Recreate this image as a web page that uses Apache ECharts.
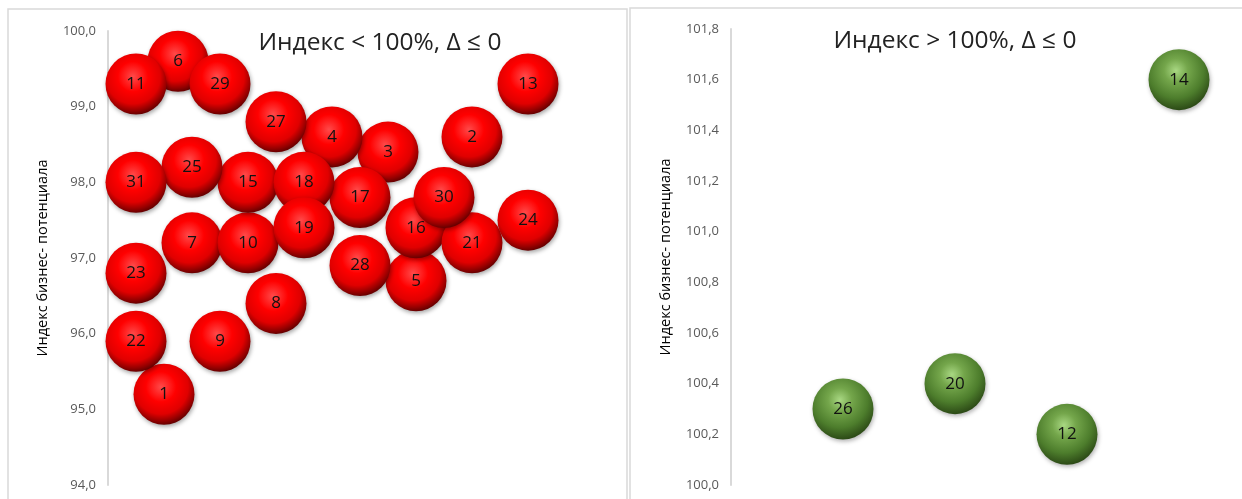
<!DOCTYPE html>
<html>
<head>
<meta charset="utf-8">
<script src="https://cdn.jsdelivr.net/npm/echarts@6/dist/echarts.min.js"></script>
<style>
html,body{margin:0;padding:0;background:#fff;}
#chart{width:1242px;height:499px;}
</style>
</head>
<body>
<div id="chart"></div>
<script>
// ---- Data ----
const leftTitle = 'Индекс < 100%, Δ ≤ 0';
const rightTitle = 'Индекс > 100%, Δ ≤ 0';
const yAxisName = 'Индекс бизнес- потенциала';

const leftLabels = ['1','2','3','4','5','6','7','8','9','10','11','13','15','16','17','18','19','21','22','23','24','25','27','28','29','30','31'];
const leftX      = [2, 13, 10, 8, 11, 2.5, 3, 6, 4, 5, 1, 15, 5, 11, 9, 7, 7, 13, 1, 1, 15, 3, 6, 9, 4, 12, 1];
const leftY      = [95.2, 98.6, 98.4, 98.6, 96.7, 99.6, 97.2, 96.4, 95.9, 97.2, 99.3, 99.3, 98.0, 97.4, 97.8, 98.0, 97.4, 97.2, 95.9, 96.8, 97.5, 98.2, 98.8, 96.9, 99.3, 97.8, 98.0];

const rightLabels = ['12','14','20','26'];
const rightX      = [3, 4, 2, 1];
const rightY      = [100.2, 101.6, 100.4, 100.3];

const leftTicks  = [94, 95, 96, 97, 98, 99, 100];
const rightTicks = [100.0, 100.2, 100.4, 100.6, 100.8, 101.0, 101.2, 101.4, 101.6, 101.8];

// ---- Build ----
const FONT = '"Open Sans", "Noto Sans", sans-serif';
const fmt = v => v.toFixed(1).replace('.', ',');

function pts(xs, ys, ls){ return xs.map((x,i)=>({value:[x, ys[i]], name: ls[i]})); }

const redGrad = {type:'radial', x:0.45, y:0.38, r:0.62, colorStops:[
  {offset:0, color:'#ff4a4a'},{offset:0.4, color:'#ff0000'},{offset:0.72, color:'#e00000'},{offset:0.9, color:'#960000'},{offset:1, color:'#680000'}]};
const greenGrad = {type:'radial', x:0.45, y:0.35, r:0.65, colorStops:[
  {offset:0, color:'#a9d883'},{offset:0.3, color:'#74a64b'},{offset:0.7, color:'#4d7d2c'},{offset:1, color:'#2c4a16'}]};

function yAxis(gi, min, max, interval){
  return {
    type:'value', gridIndex:gi, min:min, max:max, interval:interval,
    name: yAxisName, nameLocation:'middle', nameGap:58, nameRotate:90,
    nameTextStyle:{fontFamily:FONT, fontSize:14.5, color:'#000'},
    axisLine:{show:true, lineStyle:{color:'#d9d9d9', width:2}},
    axisTick:{show:false}, splitLine:{show:false},
    axisLabel:{fontFamily:FONT, fontSize:13, color:'#595959', margin:12, formatter: v=>fmt(v)}
  };
}
function xAxis(gi, min, max){
  return {type:'value', gridIndex:gi, min:min, max:max, show:false, splitLine:{show:false}};
}
const labelCfg = {show:true, position:'inside', formatter:p=>p.name, fontFamily:FONT, fontSize:17, color:'#111'};

const option = {
  backgroundColor:'#fff',
  animation:false,
  graphic:[
    {type:'rect', shape:{x:8, y:9, width:619, height:520}, style:{fill:'none', stroke:'#d9d9d9', lineWidth:1.5}, z:-1},
    {type:'rect', shape:{x:630, y:8, width:640, height:520}, style:{fill:'none', stroke:'#d9d9d9', lineWidth:1.5}, z:-1}
  ],
  title:[
    {text:leftTitle, left:375, top:26, textAlign:'center', textStyle:{fontFamily:FONT, fontSize:24.5, fontWeight:'normal', color:'#222'}},
    {text:rightTitle, left:950, top:24, textAlign:'center', textStyle:{fontFamily:FONT, fontSize:24.5, fontWeight:'normal', color:'#222'}}
  ],
  grid:[
    {left:108, top:31, width:504, height:454},
    {left:731, top:29, width:504, height:456}
  ],
  xAxis:[xAxis(0, 0, 18), xAxis(1, 0, 4.5)],
  yAxis:[yAxis(0, 94, 100, 1), yAxis(1, 100, 101.8, 0.2)],
  series:[
    {type:'scatter', xAxisIndex:0, yAxisIndex:0, symbolSize:61, data:pts(leftX,leftY,leftLabels),
     itemStyle:{color:redGrad, opacity:1, shadowBlur:4, shadowColor:'rgba(0,0,0,0.35)', shadowOffsetX:1, shadowOffsetY:2},
     label:labelCfg},
    {type:'scatter', xAxisIndex:1, yAxisIndex:1, symbolSize:61, data:pts(rightX,rightY,rightLabels),
     itemStyle:{color:greenGrad, opacity:1, shadowBlur:4, shadowColor:'rgba(0,0,0,0.3)', shadowOffsetX:1, shadowOffsetY:2},
     label:labelCfg}
  ]
};
const chart = echarts.init(document.getElementById('chart'));
chart.setOption(option);
</script>
</body>
</html>
